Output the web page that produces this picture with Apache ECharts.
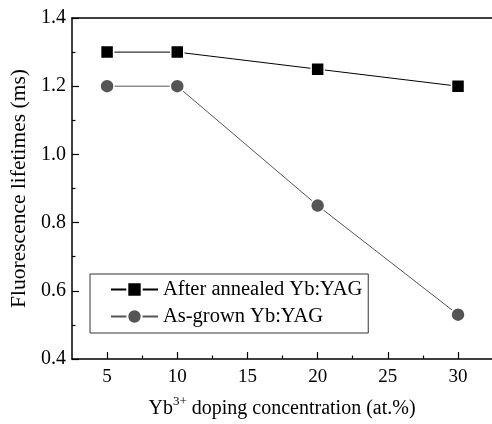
<!DOCTYPE html>
<html>
<head>
<meta charset="utf-8">
<script src="https://cdn.jsdelivr.net/npm/echarts@6/dist/echarts.min.js"></script>
<style>html,body{margin:0;padding:0;background:#fff;overflow:hidden}#c{width:492px;height:424px}</style>
</head>
<body>
<div id="c"></div>
<script>
var concentrations = [5, 10, 20, 30];
var annealed = [1.30, 1.30, 1.25, 1.20];
var asGrown = [1.20, 1.20, 0.85, 0.53];
var xMajorTicks = [5, 10, 15, 20, 25, 30];
var xMinorTicks = [7.5, 12.5, 17.5, 22.5, 27.5];
var seriesNames = ['After annealed Yb:YAG', 'As-grown Yb:YAG'];

var FONT = 'Liberation Serif';
function pairs(xs, ys) { return xs.map(function (x, i) { return [x, ys[i]]; }); }

var chart = echarts.init(document.getElementById('c'), null, { renderer: 'canvas' });
chart.setOption({
  animation: false,
  backgroundColor: '#fff',
  grid: { left: 72, top: 18, right: 0, bottom: 61, show: false },
  legend: {
    orient: 'vertical', left: 90, top: 274,
    padding: [5, 6, 6, 20],
    borderColor: '#333', borderWidth: 1,
    itemWidth: 47, itemHeight: 18, itemGap: 6,
    textStyle: { fontFamily: FONT, fontSize: 20.5, color: '#000', lineHeight: 20 },
    data: seriesNames
  },
  xAxis: [{
    type: 'value', min: 2.5, max: 32.42,
    axisLine: { show: true, lineStyle: { color: '#000', width: 1.5 } },
    axisTick: { show: true, inside: true, length: 7, customValues: xMajorTicks, lineStyle: { color: '#000', width: 1.2 } },
    axisLabel: { customValues: xMajorTicks, margin: 9, fontFamily: FONT, fontSize: 19, color: '#000' },
    splitLine: { show: false },
    name: '{a|Yb}{s|3+}{a| doping concentration (at.%)}',
    nameLocation: 'middle', nameGap: 36,
    nameTextStyle: {
      rich: {
        a: { fontFamily: FONT, fontSize: 20, color: '#000', verticalAlign: 'bottom', lineHeight: 24 },
        s: { fontFamily: FONT, fontSize: 13, color: '#000', verticalAlign: 'top', lineHeight: 24, padding: [0, 0, 8, 0] }
      }
    }
  }, {
    type: 'value', min: 2.5, max: 32.42, position: 'bottom',
    axisLine: { show: false },
    axisTick: { show: true, inside: true, length: 3.5, customValues: xMinorTicks, lineStyle: { color: '#000', width: 1.2 } },
    axisLabel: { show: false },
    splitLine: { show: false }
  }, {
    type: 'value', min: 2.5, max: 32.42, position: 'top',
    axisLine: { show: true, lineStyle: { color: '#000', width: 1.5 } },
    axisTick: { show: false },
    axisLabel: { show: false },
    splitLine: { show: false }
  }],
  yAxis: {
    type: 'value', min: 0.4, max: 1.4, interval: 0.2,
    axisLine: { show: true, lineStyle: { color: '#000', width: 1.5 } },
    axisTick: { show: true, inside: true, length: 7, lineStyle: { color: '#000', width: 1.2 } },
    minorTick: { show: true, splitNumber: 2, length: 3.5, lineStyle: { color: '#000', width: 1.2 } },
    axisLabel: { margin: 6, fontFamily: FONT, fontSize: 20, color: '#000', formatter: function (v) { return v.toFixed(1); } },
    splitLine: { show: false },
    name: 'Fluorescence lifetimes (ms)',
    nameLocation: 'middle', nameGap: 42, nameRotate: 90,
    nameTextStyle: { fontFamily: FONT, fontSize: 21.5, color: '#000' }
  },
  series: [{
    name: seriesNames[0], type: 'line', xAxisIndex: 0,
    data: pairs(concentrations, annealed),
    symbol: 'rect', symbolSize: 13,
    lineStyle: { color: '#000', width: 1 },
    itemStyle: { color: '#000', borderColor: '#fff', borderWidth: 1.5 }
  }, {
    name: seriesNames[1], type: 'line', xAxisIndex: 0,
    data: pairs(concentrations, asGrown),
    symbol: 'circle', symbolSize: 14,
    lineStyle: { color: '#555', width: 1 },
    itemStyle: { color: '#555', borderColor: '#fff', borderWidth: 1.5 }
  }]
});
</script>
</body>
</html>
